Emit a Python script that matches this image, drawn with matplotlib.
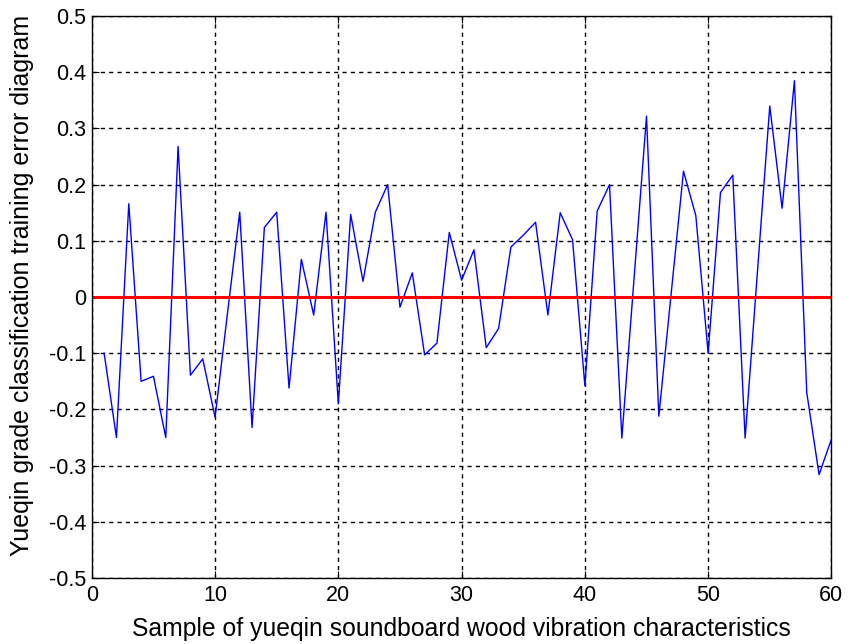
import matplotlib
matplotlib.use("Agg")
import matplotlib.pyplot as plt

# Training error per sample
samples = list(range(1, 61))
errors = [
    -0.10, -0.25, 0.166, -0.15, -0.141, -0.25, 0.268, -0.139, -0.11, -0.214,
    -0.03, 0.151, -0.232, 0.124, 0.151, -0.162, 0.067, -0.032, 0.151, -0.19,
    0.147, 0.028, 0.151, 0.20, -0.018, 0.043, -0.103, -0.082, 0.115, 0.03,
    0.084, -0.09, -0.056, 0.089, 0.11, 0.133, -0.032, 0.15, 0.102, -0.158,
    0.153, 0.20, -0.251, 0.036, 0.322, -0.212, 0.006, 0.224, 0.145, -0.10,
    0.186, 0.217, -0.251, 0.045, 0.34, 0.158, 0.385, -0.17, -0.316, -0.253,
]
xticks = [0, 10, 20, 30, 40, 50, 60]
yticks = [-0.5, -0.4, -0.3, -0.2, -0.1, 0, 0.1, 0.2, 0.3, 0.4, 0.5]
ytick_labels = ["-0.5", "-0.4", "-0.3", "-0.2", "-0.1", "0", "0.1", "0.2", "0.3", "0.4", "0.5"]

plt.rcParams["font.family"] = ["Liberation Sans", "DejaVu Sans"]

fig = plt.figure(figsize=(8.58, 6.44), dpi=100)
ax = fig.add_axes([0.107, 0.1025, 0.862, 0.8725])

ax.plot(samples, errors, color="#0000ff", linewidth=1.0)
ax.axhline(0, color="#ff0000", linewidth=2.2)

ax.set_xlim(0, 60)
ax.set_ylim(-0.5, 0.5)
ax.set_xticks(xticks)
ax.set_yticks(yticks)
ax.set_yticklabels(ytick_labels)
ax.grid(True, color="black", linestyle=(0, (3, 3)), linewidth=1.0)
ax.tick_params(direction="in", length=5, labelsize=15.5, top=True, right=True,
               labeltop=False, labelright=False, pad=4, colors="black")
ax.tick_params(axis="x", pad=5)
for s in ax.spines.values():
    s.set_linewidth(1.0)

ax.set_xlabel("Sample of yueqin soundboard wood vibration characteristics", fontsize=17.8, labelpad=8)
ax.set_ylabel("Yueqin grade classification training error diagram", fontsize=18, labelpad=2)
ax.yaxis.set_label_coords(-0.078, 0.52)

fig.savefig("out.png", dpi=100)
